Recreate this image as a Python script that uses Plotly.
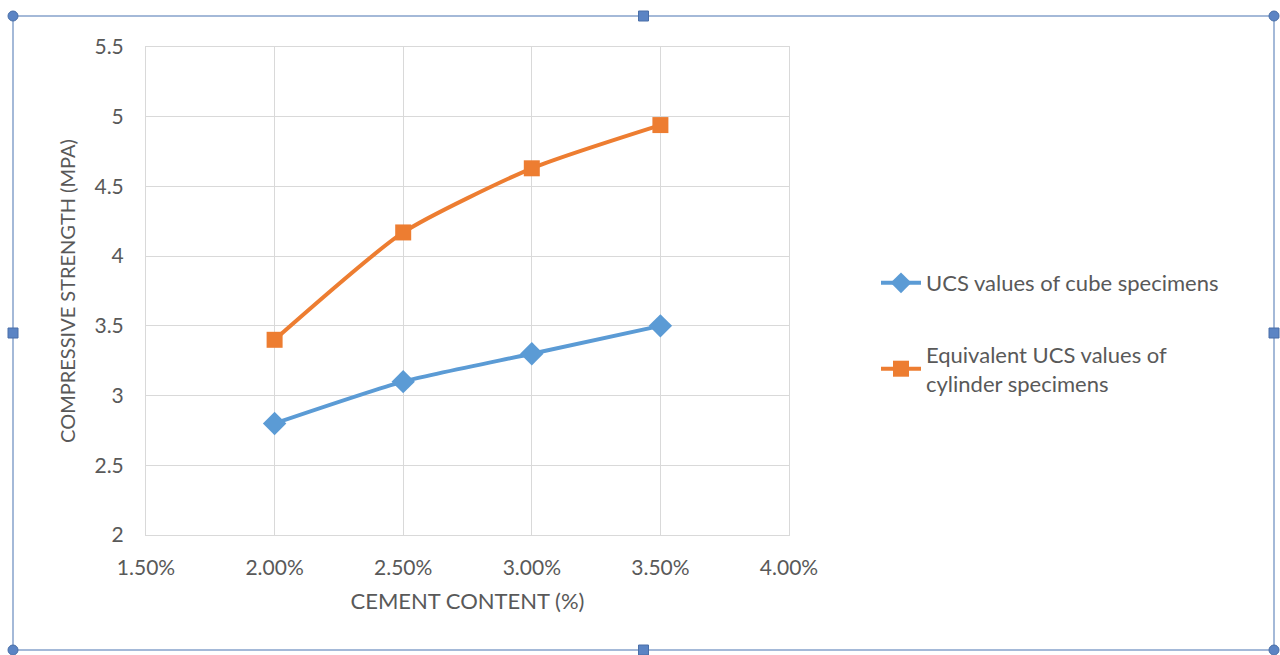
import plotly.graph_objects as go

cement = [0.02, 0.025, 0.03, 0.035]
cube_ucs = [2.8, 3.1, 3.3, 3.5]
cyl_ucs = [3.4, 4.17, 4.63, 4.94]
series_names = ["UCS values of cube specimens", "Equivalent UCS values of<br>cylinder specimens"]

W, H = 1280, 655
L, R, T, B = 146, 789, 47, 535

def px(x):
    return (x - L) / (R - L)

def py(y):
    return (B - y) / (B - T)

fig = go.Figure()
fig.add_trace(go.Scatter(x=cement, y=cube_ucs, mode="lines+markers", name=series_names[0],
                         line=dict(color="#5b9bd5", width=4, shape="spline", smoothing=0.6),
                         marker=dict(symbol="diamond", size=18, color="#5b9bd5"),
                         legendgroup="a"))
fig.add_trace(go.Scatter(x=cement, y=cyl_ucs, mode="lines+markers", name=series_names[1],
                         line=dict(color="#ed7d31", width=4, shape="spline", smoothing=0.6),
                         marker=dict(symbol="square", size=16, color="#ed7d31"),
                         legendgroup="b"))

font_fam = "Lato, 'Open Sans', sans-serif"
grid = "#d9d9d9"
fig.update_layout(
    width=W, height=H,
    margin=dict(l=L, r=W - R, t=T, b=H - B),
    paper_bgcolor="white", plot_bgcolor="white",
    font=dict(family=font_fam, color="#595959"),
    xaxis=dict(range=[0.015, 0.04], dtick=0.005, tick0=0.015, tickformat=".2%",
               showgrid=True, gridcolor=grid, gridwidth=1, zeroline=False,
               showline=True, linecolor=grid, mirror=True, ticks="",
               tickfont=dict(size=21, color="#595959"), ticklabelstandoff=14,
               title=dict(text="CEMENT CONTENT (%)", font=dict(size=22, color="#595959"), standoff=15)),
    yaxis=dict(range=[2, 5.5], dtick=0.5, tick0=2,
               showgrid=True, gridcolor=grid, gridwidth=1, zeroline=False,
               showline=True, linecolor=grid, mirror=True, ticks="",
               tickfont=dict(size=21, color="#595959"), ticklabelstandoff=17,
               title=dict(text="COMPRESSIVE STRENGTH (MPA)", font=dict(size=20, color="#595959"), standoff=13)),
    legend=dict(x=px(876), y=py(262), xanchor="left", yanchor="top",
                font=dict(size=22, color="#595959"), traceorder="grouped",
                tracegroupgap=40, itemwidth=40, bgcolor="rgba(0,0,0,0)"),
    showlegend=True,
)

# selection frame of the chart object
frame = "#86a2cc"
x0, x1, y0, y1 = px(13), px(1274), py(650), py(16)
fig.add_shape(type="rect", xref="paper", yref="paper", x0=x0, x1=x1, y0=y0, y1=y1,
              line=dict(color=frame, width=1.5), layer="below")
for (hx, hy) in [(x0, y0), (x0, y1), (x1, y0), (x1, y1)]:
    fig.add_shape(type="circle", xref="paper", yref="paper", xsizemode="pixel", ysizemode="pixel",
                  xanchor=hx, yanchor=hy, x0=-5, x1=5, y0=-5, y1=5,
                  fillcolor="#5b84c4", line=dict(color="#4a6fa8", width=1))
for (hx, hy) in [((x0 + x1) / 2, y0), ((x0 + x1) / 2, y1), (x0, (y0 + y1) / 2), (x1, (y0 + y1) / 2)]:
    fig.add_shape(type="rect", xref="paper", yref="paper", xsizemode="pixel", ysizemode="pixel",
                  xanchor=hx, yanchor=hy, x0=-5, x1=5, y0=-5, y1=5,
                  fillcolor="#5b84c4", line=dict(color="#4a6fa8", width=1))

fig.write_html("out.html")
